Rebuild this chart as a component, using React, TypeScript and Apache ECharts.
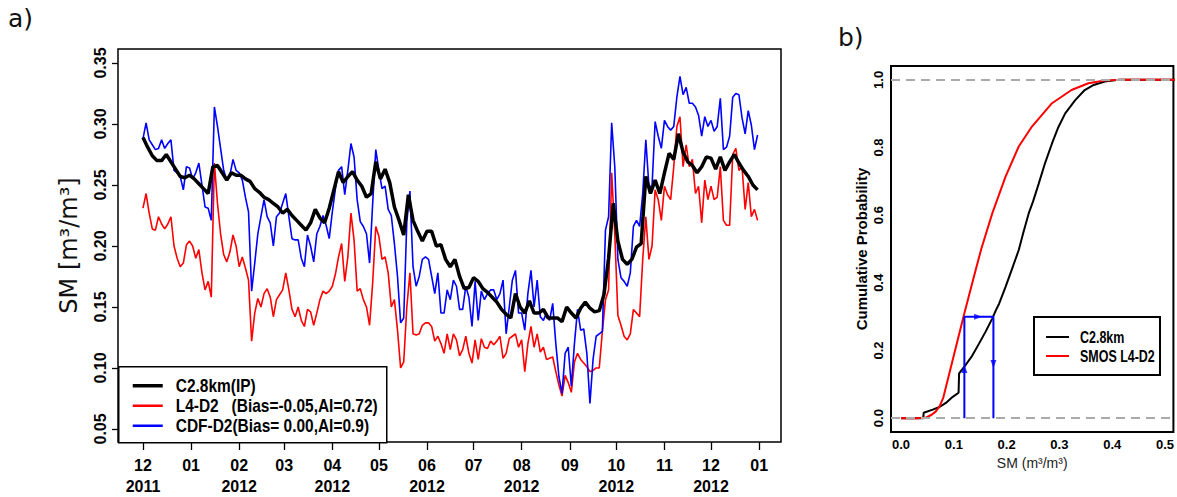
import React, { useEffect, useRef } from "react";
import * as echarts from "echarts";

// ---------- DATA ----------
const SERIES_START = "2011-12-01";
const SMOS_STEP_DAYS = 2;
const MODEL_STEP_DAYS = 3;

const monthTicks = [
  "2011-12-01", "2012-01-01", "2012-02-01", "2012-03-01", "2012-04-01", "2012-05-01", "2012-06-01",
  "2012-07-01", "2012-08-01", "2012-09-01", "2012-10-01", "2012-11-01", "2012-12-01", "2013-01-01",
];
const smTicks = [0.05, 0.1, 0.15, 0.2, 0.25, 0.3, 0.35];
const cdfXTicks = [0, 0.1, 0.2, 0.3, 0.4, 0.5];
const cdfYTicks = [0, 0.2, 0.4, 0.6, 0.8, 1.0];

// CDF-D2 (blue), every 2 days from 2011-12-01
const cdfD2 = [
  0.288, 0.301, 0.287, 0.283, 0.279, 0.28, 0.287, 0.28, 0.284, 0.287,
  0.262, 0.26, 0.257, 0.246, 0.265, 0.264, 0.255, 0.26, 0.268, 0.25,
  0.232, 0.231, 0.221, 0.314, 0.298, 0.28, 0.262, 0.254, 0.258, 0.271,
  0.262, 0.26, 0.254, 0.24, 0.228, 0.163, 0.186, 0.21, 0.224, 0.238,
  0.224, 0.219, 0.2, 0.224, 0.227, 0.235, 0.243, 0.224, 0.206,
  0.205, 0.205, 0.19, 0.183, 0.209, 0.2, 0.187, 0.21, 0.216, 0.225, 0.217,
  0.206, 0.228, 0.247, 0.262, 0.265, 0.242, 0.262, 0.284, 0.273, 0.238,
  0.22, 0.216, 0.21, 0.186, 0.235, 0.279, 0.262, 0.247, 0.249, 0.23,
  0.225, 0.202, 0.175, 0.137, 0.141, 0.22, 0.245, 0.183, 0.167, 0.175,
  0.189, 0.191, 0.189, 0.175, 0.161, 0.178, 0.145, 0.145, 0.164,
  0.156, 0.172, 0.167, 0.148, 0.148, 0.167, 0.158, 0.134, 0.171, 0.139, 0.163,
  0.156, 0.161, 0.164, 0.164, 0.156, 0.161, 0.172, 0.128, 0.15, 0.172,
  0.18, 0.145, 0.145, 0.131, 0.161, 0.18, 0.15, 0.172, 0.142, 0.139,
  0.145, 0.139, 0.153, 0.12, 0.093, 0.079, 0.112, 0.117, 0.085, 0.12,
  0.148, 0.131, 0.132, 0.112, 0.071, 0.107, 0.126, 0.128, 0.13, 0.213,
  0.224, 0.301, 0.265, 0.189, 0.174, 0.171, 0.167, 0.178, 0.216, 0.221,
  0.216, 0.243, 0.287, 0.249, 0.249, 0.302, 0.29, 0.28, 0.303, 0.298,
  0.295, 0.298, 0.322, 0.339, 0.324, 0.33, 0.317, 0.317, 0.314, 0.307,
  0.29, 0.306, 0.298, 0.303, 0.294, 0.298, 0.321, 0.279, 0.281, 0.29,
  0.322, 0.325, 0.324, 0.305, 0.292, 0.311, 0.299, 0.279, 0.291,
];

// L4-D2 (red), every 2 days from 2011-12-01
const l4D2 = [
  0.231, 0.243, 0.227, 0.214, 0.213, 0.224, 0.218, 0.214, 0.218, 0.224,
  0.2, 0.19, 0.183, 0.186, 0.201, 0.204, 0.2, 0.19, 0.197, 0.178,
  0.164, 0.171, 0.158, 0.268, 0.235, 0.21, 0.193, 0.187, 0.195, 0.209,
  0.2, 0.183, 0.191, 0.182, 0.172, 0.122, 0.145, 0.157, 0.15, 0.161,
  0.165, 0.158, 0.142, 0.156, 0.16, 0.164, 0.178, 0.164, 0.148,
  0.142, 0.15, 0.139, 0.134, 0.148, 0.146, 0.135, 0.145, 0.156, 0.163, 0.161,
  0.163, 0.167, 0.177, 0.191, 0.202, 0.171, 0.191, 0.227, 0.205, 0.163,
  0.165, 0.156, 0.15, 0.135, 0.17, 0.216, 0.208, 0.189, 0.191, 0.178,
  0.15, 0.156, 0.131, 0.1, 0.105, 0.15, 0.178, 0.128, 0.127, 0.128,
  0.135, 0.137, 0.137, 0.134, 0.122, 0.126, 0.12, 0.112, 0.128,
  0.115, 0.128, 0.123, 0.11, 0.115, 0.126, 0.112, 0.104, 0.123, 0.107, 0.124,
  0.117, 0.116, 0.122, 0.119, 0.122, 0.126, 0.108, 0.112, 0.124, 0.126,
  0.128, 0.117, 0.123, 0.097, 0.12, 0.134, 0.117, 0.128, 0.113, 0.117,
  0.107, 0.108, 0.109, 0.097, 0.086, 0.077, 0.094, 0.088, 0.08, 0.105,
  0.112, 0.107, 0.104, 0.101, 0.097, 0.098, 0.1, 0.1, 0.13, 0.156,
  0.164, 0.26, 0.21, 0.143, 0.135, 0.126, 0.123, 0.128, 0.148, 0.145,
  0.142, 0.189, 0.224, 0.189, 0.2, 0.246, 0.238, 0.221, 0.249, 0.242,
  0.238, 0.265, 0.298, 0.306, 0.265, 0.283, 0.265, 0.271, 0.243, 0.249,
  0.219, 0.254, 0.238, 0.249, 0.238, 0.24, 0.265, 0.221, 0.217, 0.217,
  0.275, 0.28, 0.262, 0.265, 0.23, 0.252, 0.224, 0.23, 0.221,
];

// C2.8km(IP) (black), every 3 days from 2011-12-01
const c28km = [
  0.289, 0.281, 0.274, 0.27, 0.27, 0.275, 0.269, 0.263, 0.257, 0.256,
  0.258, 0.255, 0.251, 0.247, 0.243, 0.265, 0.266, 0.26, 0.254, 0.26,
  0.258, 0.258, 0.255, 0.253, 0.247, 0.244, 0.24, 0.238, 0.235, 0.232,
  0.227, 0.23, 0.225, 0.221, 0.217, 0.213, 0.219, 0.23, 0.223, 0.219,
  0.231, 0.246, 0.261, 0.252, 0.257, 0.261, 0.254, 0.249, 0.24, 0.243,
  0.269, 0.255, 0.263, 0.252, 0.232, 0.221, 0.209, 0.242, 0.221, 0.212,
  0.204, 0.212, 0.212, 0.2, 0.201, 0.189, 0.183, 0.189, 0.175, 0.165,
  0.166, 0.174, 0.171, 0.165, 0.162, 0.158, 0.154, 0.148, 0.144, 0.141,
  0.161, 0.15, 0.145, 0.155, 0.145, 0.145, 0.148, 0.141, 0.141, 0.141,
  0.138, 0.15, 0.145, 0.141, 0.149, 0.154, 0.149, 0.146, 0.147, 0.16,
  0.19, 0.235, 0.204, 0.189, 0.185, 0.189, 0.199, 0.202, 0.257, 0.243,
  0.254, 0.243, 0.26, 0.276, 0.271, 0.292, 0.277, 0.269, 0.266, 0.26,
  0.265, 0.273, 0.272, 0.263, 0.273, 0.262, 0.269, 0.275, 0.268, 0.262,
  0.257, 0.25, 0.246,
];

// Panel b: empirical CDFs
const cdfC28X = [0, 0.042, 0.043, 0.06, 0.073, 0.085, 0.098, 0.109, 0.11, 0.12, 0.135, 0.148, 0.16, 0.173, 0.18, 0.186, 0.198, 0.21, 0.223, 0.232, 0.242, 0.25, 0.261, 0.272, 0.286, 0.298, 0.311, 0.33, 0.348, 0.365, 0.386, 0.411, 0.52];
const cdfC28P = [0, 0, 0.016, 0.025, 0.033, 0.045, 0.063, 0.075, 0.132, 0.152, 0.185, 0.221, 0.255, 0.295, 0.32, 0.339, 0.388, 0.44, 0.497, 0.55, 0.606, 0.64, 0.694, 0.75, 0.812, 0.86, 0.901, 0.94, 0.97, 0.985, 0.995, 1.0, 1.0];
const cdfL4X = [0, 0.03, 0.048, 0.058, 0.066, 0.073, 0.08, 0.1, 0.12, 0.14, 0.152, 0.173, 0.198, 0.223, 0.248, 0.286, 0.323, 0.355, 0.386, 0.42, 0.52];
const cdfL4P = [0, 0, 0.002, 0.01, 0.02, 0.035, 0.06, 0.185, 0.31, 0.43, 0.5, 0.606, 0.714, 0.803, 0.862, 0.931, 0.97, 0.99, 0.998, 1.0, 1.0];
const matchPathX = [0.12, 0.12, 0.175, 0.175];
const matchPathP = [0, 0.3, 0.3, 0];
const arrowX = [0.12, 0.146, 0.175];
const arrowP = [0.145, 0.3, 0.16];
const arrowAngle = [0, -90, 180];
const refLevels = [0, 1];

// ---------- HELPERS ----------
const DAY = 86400000;
const t0 = Date.parse(SERIES_START + "T00:00:00Z");
const toSeries = (vals: number[], step: number) => vals.map((v, i) => [i * step, v]);
const tickDays = monthTicks.map((s) => Math.round((Date.parse(s + "T00:00:00Z") - t0) / DAY));
const zip = (xs: number[], ys: number[]) => xs.map((x, i) => [x, ys[i]]);

const SANS = "'Liberation Sans', Arial, sans-serif";
const PLAIN = "'DejaVu Sans', 'Open Sans', sans-serif";

export default function App() {
  const ref = useRef<HTMLDivElement>(null);
  useEffect(() => {
    document.body.style.margin = "0";
    if (!ref.current) return;
    const chart = echarts.init(ref.current, undefined, { renderer: "svg" });
    const legendText = (text: string, x: number, y: number, size: number, sx: number) => ({
      type: "text", x, y, scaleX: sx,
      style: { text, fontFamily: SANS, fontWeight: "bold", fontSize: size, fill: "#000", verticalAlign: "middle" },
    });
    const option: any = {
      animation: false,
      backgroundColor: "#ffffff",
      grid: [
        { left: 118, top: 49, width: 663, height: 393, show: true, borderColor: "#000", borderWidth: 1.5, backgroundColor: "transparent" },
        { left: 891, top: 66, width: 285, height: 366, show: true, borderColor: "#000", borderWidth: 2, backgroundColor: "transparent" },
      ],
      xAxis: [
        {
          type: "value", gridIndex: 0,
          min: -16.1, max: 411.1,
          axisLine: { show: false, onZero: false }, splitLine: { show: false },
          axisTick: { show: true, length: 8, lineStyle: { color: "#000", width: 1.3 }, customValues: tickDays },
          axisLabel: {
            customValues: tickDays, hideOverlap: false,
            color: "#000", fontFamily: SANS, fontWeight: "bold", fontSize: 16, lineHeight: 21, margin: 13,
            formatter: (v: number) => {
              const d = new Date(t0 + v * DAY);
              const m = d.getUTCMonth() + 1;
              const mm = (m < 10 ? "0" : "") + m;
              return m % 2 === 0 ? mm + "\n" + d.getUTCFullYear() : mm;
            },
          },
        },
        {
          type: "value", gridIndex: 1, min: -0.019, max: 0.516,
          axisLine: { show: false, onZero: false }, splitLine: { show: false }, axisTick: { show: false },
          axisLabel: { customValues: cdfXTicks, color: "#000", fontFamily: SANS, fontWeight: "bold", fontSize: 13, margin: 6, formatter: (v: number) => v.toFixed(1) },
          name: "SM (m³/m³)", nameLocation: "middle", nameGap: 20,
          nameTextStyle: { color: "#222", fontFamily: SANS, fontSize: 14 },
        },
      ],
      yAxis: [
        {
          type: "value", gridIndex: 0, min: 0.0393, max: 0.3615,
          axisLine: { show: false, onZero: false }, splitLine: { show: false },
          axisTick: { show: true, length: 6, lineStyle: { color: "#000", width: 1.3 }, customValues: smTicks },
          axisLabel: { customValues: smTicks, rotate: 90, color: "#000", fontFamily: SANS, fontWeight: "bold", fontSize: 16, margin: 10, formatter: (v: number) => v.toFixed(2) },
          name: "SM [m³/m³]", nameLocation: "middle", nameGap: 37, nameRotate: 90,
          nameTextStyle: { color: "#111", fontFamily: PLAIN, fontSize: 24 },
        },
        {
          type: "value", gridIndex: 1, min: -0.041, max: 1.041,
          axisLine: { show: false, onZero: false }, splitLine: { show: false }, axisTick: { show: false },
          axisLabel: { customValues: cdfYTicks, rotate: 90, color: "#000", fontFamily: SANS, fontWeight: "bold", fontSize: 13, margin: 6, formatter: (v: number) => v.toFixed(1) },
          name: "Cumulative Probability", nameLocation: "middle", nameGap: 22, nameRotate: 90,
          nameTextStyle: { color: "#000", fontFamily: SANS, fontWeight: "bold", fontSize: 15 },
        },
      ],
      series: [
        { name: "L4-D2", type: "line", xAxisIndex: 0, yAxisIndex: 0, data: toSeries(l4D2, SMOS_STEP_DAYS), showSymbol: false, lineStyle: { color: "#ff0000", width: 1.6 }, z: 2 },
        { name: "CDF-D2", type: "line", xAxisIndex: 0, yAxisIndex: 0, data: toSeries(cdfD2, SMOS_STEP_DAYS), showSymbol: false, lineStyle: { color: "#0000ff", width: 1.6 }, z: 3 },
        { name: "C2.8km(IP)", type: "line", xAxisIndex: 0, yAxisIndex: 0, data: toSeries(c28km, MODEL_STEP_DAYS), showSymbol: false, lineStyle: { color: "#000", width: 3.5 }, z: 4 },
        { name: "C2.8km", type: "line", xAxisIndex: 1, yAxisIndex: 1, data: zip(cdfC28X, cdfC28P), showSymbol: false, lineStyle: { color: "#000", width: 2 }, z: 2 },
        { name: "SMOS L4-D2", type: "line", xAxisIndex: 1, yAxisIndex: 1, data: zip(cdfL4X, cdfL4P), showSymbol: false, lineStyle: { color: "#ff0000", width: 2 }, z: 3 },
        { name: "match", type: "line", xAxisIndex: 1, yAxisIndex: 1, data: zip(matchPathX, matchPathP), showSymbol: false, lineStyle: { color: "#0000ff", width: 2 }, z: 4 },
        {
          name: "arrows", type: "scatter", xAxisIndex: 1, yAxisIndex: 1, symbol: "triangle", symbolSize: [6, 8],
          itemStyle: { color: "#0000ff" }, z: 5,
          data: arrowX.map((x, i) => ({ value: [x, arrowP[i]], symbolRotate: arrowAngle[i] })),
        },
        {
          name: "ref", type: "line", xAxisIndex: 1, yAxisIndex: 1, data: [], z: 6,
          markLine: { silent: true, symbol: "none", label: { show: false }, lineStyle: { color: "#aaaaaa", width: 2, type: [9, 6] }, data: refLevels.map((v) => ({ yAxis: v })) },
        },
      ],
      graphic: [
        { type: "text", left: 8, top: 6, style: { text: "a)", fontFamily: PLAIN, fontSize: 25, fill: "#111" } },
        { type: "text", left: 838, top: 25, style: { text: "b)", fontFamily: PLAIN, fontSize: 25, fill: "#111" } },
        {
          type: "group", left: 118, top: 366, z: 100,
          children: [
            { type: "rect", shape: { x: 0, y: 0, width: 268, height: 76 }, style: { fill: "#fff", stroke: "#000", lineWidth: 1.5 } },
            { type: "line", shape: { x1: 14, y1: 19, x2: 44, y2: 19 }, style: { stroke: "#000", lineWidth: 3.5 } },
            { type: "line", shape: { x1: 14, y1: 39, x2: 44, y2: 39 }, style: { stroke: "#ff0000", lineWidth: 2.5 } },
            { type: "line", shape: { x1: 14, y1: 59, x2: 44, y2: 59 }, style: { stroke: "#0000ff", lineWidth: 2.5 } },
            legendText("C2.8km(IP)", 57, 19, 18, 0.86),
            legendText("L4-D2   (Bias=-0.05,AI=0.72)", 57, 39, 18, 0.86),
            legendText("CDF-D2(Bias= 0.00,AI=0.9)", 57, 59, 18, 0.86),
          ],
        },
        {
          type: "group", left: 1033, top: 316, z: 100,
          children: [
            { type: "rect", shape: { x: 0, y: 0, width: 126, height: 58 }, style: { fill: "#fff", stroke: "#000", lineWidth: 2 } },
            { type: "line", shape: { x1: 12, y1: 20, x2: 35, y2: 20 }, style: { stroke: "#000", lineWidth: 2 } },
            { type: "line", shape: { x1: 12, y1: 39, x2: 35, y2: 39 }, style: { stroke: "#ff0000", lineWidth: 2 } },
            legendText("C2.8km", 46, 20, 16, 0.78),
            legendText("SMOS L4-D2", 46, 39, 16, 0.78),
          ],
        },
      ],
    };
    chart.setOption(option);
    return () => chart.dispose();
  }, []);
  return <div ref={ref} style={{ width: 1177, height: 497, position: "fixed", left: 0, top: 0 }} />;
}
